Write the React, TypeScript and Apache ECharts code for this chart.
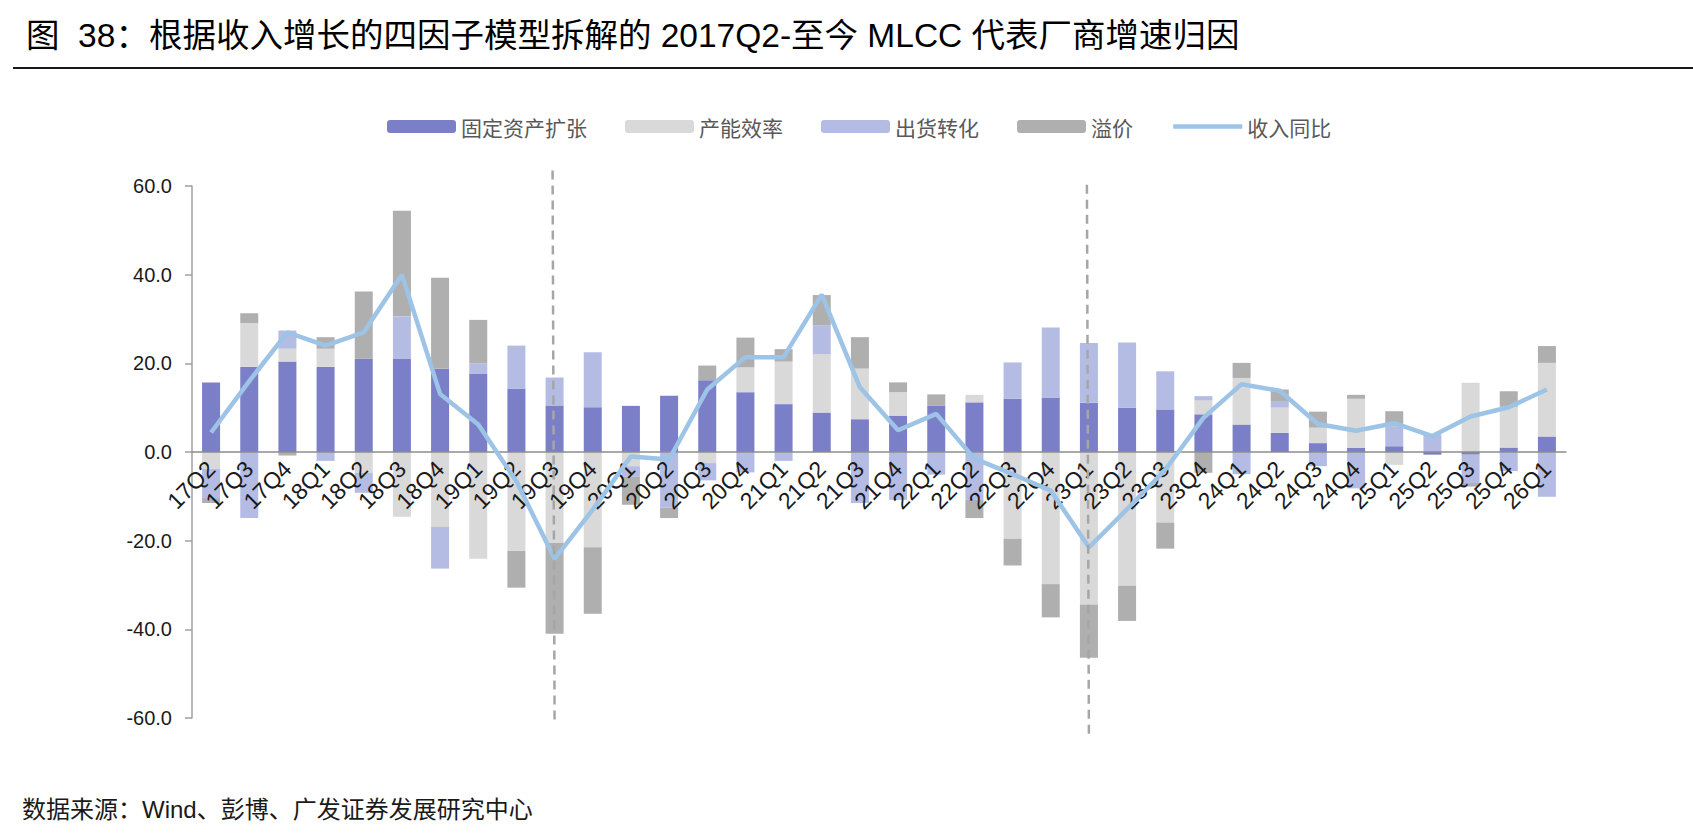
import React, { useEffect, useRef } from "react";
import * as echarts from "echarts";

const categories = [
  "17Q2", "17Q3", "17Q4", "18Q1", "18Q2", "18Q3", "18Q4", "19Q1", "19Q2", "19Q3", "19Q4",
  "20Q1", "20Q2", "20Q3", "20Q4", "21Q1", "21Q2", "21Q3", "21Q4", "22Q1", "22Q2", "22Q3",
  "22Q4", "23Q1", "23Q2", "23Q3", "23Q4", "24Q1", "24Q2", "24Q3", "24Q4", "25Q1", "25Q2",
  "25Q3", "25Q4", "26Q1",
];

const fixedAsset = [
  15.7, 19.2, 20.4, 19.2, 21.1, 21.1, 18.8, 17.7, 14.3, 10.5, 10.1,
  10.4, 12.7, 16.2, 13.5, 10.8, 8.9, 7.4, 8.2, 10.5, 11.2, 12.0,
  12.3, 11.1, 10.0, 9.6, 8.5, 6.2, 4.3, 2.0, 0.9, 1.3, -0.6,
  -0.6, 1.0, 3.5,
];

const capacityEfficiency = [
  -3.8, 9.9, 2.9, 4.1, -4.7, -14.6, -16.9, -24.1, -22.3, -20.5, -21.5,
  -3.2, 0, -2.5, 5.6, 9.6, 13.2, 11.4, 5.3, 0, 1.7, -19.6,
  -29.8, -34.4, -30.2, -15.9, 3.1, 10.5, 5.7, 3.5, 11.1, -2.9, 0,
  15.6, 9.2, 16.6,
];

const shipmentConversion = [
  -6.6, -14.9, 4.1, -2.0, -4.5, 9.5, -9.4, 2.3, 9.7, 6.3, 12.4,
  -2.3, -12.6, -3.9, -4.6, -2.0, 6.5, -11.5, -10.8, -5.1, -10.8, 8.2,
  15.8, 13.5, 14.7, 8.6, 1.0, -5.0, 1.5, -3.2, -8.2, 4.5, 4.0,
  -6.4, -4.3, -10.1,
];

const premium = [
  -1.1, 2.2, -0.8, 2.6, 15.1, 23.8, 20.5, 9.8, -8.3, -20.5, -15.0,
  -6.4, -2.3, 3.3, 6.7, 2.8, 6.8, 7.1, 2.2, 2.5, -4.1, -6.0,
  -7.5, -12.0, -7.9, -5.9, -4.7, 3.4, 2.6, 3.6, 0.9, 3.4, 0,
  -0.8, 3.5, 3.8,
];

const revenueYoY = [
  4.4, 16.0, 27.0, 24.0, 27.0, 40.0, 13.1, 6.2, -6.6, -24.1, -13.0,
  -1.0, -1.7, 14.1, 21.4, 21.4, 35.5, 14.6, 4.9, 8.6, -1.5, -5.0,
  -8.7, -21.5, -12.9, -4.0, 7.7, 15.3, 13.8, 6.3, 4.8, 6.5, 3.6,
  8.0, 10.1, 14.1,
];

const seriesNames = ["固定资产扩张", "产能效率", "出货转化", "溢价", "收入同比"];
const yMin = -60;
const yMax = 60;
const yInterval = 20;

const dividers = [
  { category: "19Q3", top: 63.5, bottom: -61 },
  { category: "23Q1", top: 60.3, bottom: -64.4 },
];

const titleText = "图  38：根据收入增长的四因子模型拆解的 2017Q2-至今 MLCC 代表厂商增速归因";
const sourceText = "数据来源：Wind、彭博、广发证券发展研究中心";

const FONT = "'Liberation Sans', Arial, 'Noto Sans CJK SC', sans-serif";
const CJK = "'Noto Sans CJK SC', 'Liberation Sans', sans-serif";

export default function App() {
  const ref = useRef<HTMLDivElement>(null);

  useEffect(() => {
    document.body.style.margin = "0";
    const chart = echarts.init(ref.current as HTMLDivElement, null, { renderer: "svg" });

    const barCommon = {
      type: "bar",
      stack: "total",
      barWidth: 18,
      emphasis: { disabled: true },
    };

    chart.setOption({
      animation: false,
      backgroundColor: "#ffffff",
      legend: {
        data: [
          seriesNames[0],
          seriesNames[1],
          seriesNames[2],
          seriesNames[3],
          { name: seriesNames[4], itemStyle: { opacity: 0 }, lineStyle: { width: 4.5 } },
        ],
        left: 387,
        top: 116,
        padding: 0,
        itemWidth: 69,
        itemHeight: 13,
        itemGap: 38,
        textStyle: { fontSize: 21, color: "#595959", fontFamily: CJK },
      },
      grid: { left: 192, right: 127, top: 186, bottom: 115, containLabel: false },
      xAxis: {
        type: "category",
        data: categories,
        z: 6,
        axisLine: { onZero: false, lineStyle: { color: "#8c8c8c", width: 1.5 } },
        axisTick: { show: false },
        axisLabel: {
          interval: 0,
          rotate: 45,
          margin: 13,
          fontSize: 23,
          color: "#1a1a1a",
          fontFamily: FONT,
        },
        splitLine: { show: false },
      },
      yAxis: {
        type: "value",
        min: yMin,
        max: yMax,
        interval: yInterval,
        axisLine: { show: true, lineStyle: { color: "#a0a0a0", width: 1.5 } },
        axisTick: { show: true, length: 7, lineStyle: { color: "#a0a0a0", width: 1.5 } },
        axisLabel: {
          margin: 20,
          fontSize: 20,
          color: "#1a1a1a",
          fontFamily: FONT,
          formatter: (v: number) => v.toFixed(1),
        },
        splitLine: { show: false },
      },
      series: [
        { ...barCommon, name: seriesNames[0], data: fixedAsset, itemStyle: { color: "#7b7fc7" } },
        { ...barCommon, name: seriesNames[1], data: capacityEfficiency, itemStyle: { color: "#d9d9d9" } },
        { ...barCommon, name: seriesNames[2], data: shipmentConversion, itemStyle: { color: "#b4bce4" } },
        { ...barCommon, name: seriesNames[3], data: premium, itemStyle: { color: "#afafaf" } },
        {
          type: "line",
          name: seriesNames[4],
          data: revenueYoY,
          symbol: "none",
          z: 8,
          lineStyle: { color: "#9dc3e6", width: 4.5 },
          itemStyle: { color: "#9dc3e6" },
          emphasis: { disabled: true },
        },
      ],
    });

    // Move the category axis (line + labels) up to the zero value.
    const zeroY = chart.convertToPixel({ yAxisIndex: 0 }, 0) as number;
    const bottomY = chart.convertToPixel({ yAxisIndex: 0 }, yMin) as number;
    chart.setOption({ xAxis: { offset: -(bottomY - zeroY) } });

    const dividerGraphics = dividers.map((d, i) => {
      const x = chart.convertToPixel({ xAxisIndex: 0 }, d.category) as number;
      const y1 = chart.convertToPixel({ yAxisIndex: 0 }, d.top) as number;
      const y2 = chart.convertToPixel({ yAxisIndex: 0 }, d.bottom) as number;
      return {
        type: "line",
        id: "divider" + i,
        z: 10,
        shape: { x1: x - 2, y1, x2: x, y2 },
        style: { stroke: "#a6a6a6", lineWidth: 2.5, lineDash: [9, 6] },
      };
    });

    chart.setOption({
      graphic: [
        {
          type: "text",
          id: "title",
          x: 26,
          y: 35,
          style: {
            text: titleText,
            fontSize: 33.5,
            fontFamily: FONT,
            fill: "#000000",
            verticalAlign: "middle",
          },
        },
        {
          type: "line",
          id: "underline",
          shape: { x1: 13, y1: 68, x2: 1693, y2: 68 },
          style: { stroke: "#1a1a1a", lineWidth: 2 },
        },
        {
          type: "text",
          id: "source",
          x: 22,
          y: 809,
          style: {
            text: sourceText,
            fontSize: 24,
            fontFamily: FONT,
            fill: "#1a1a1a",
            verticalAlign: "middle",
          },
        },
        ...dividerGraphics,
      ],
    });

    return () => chart.dispose();
  }, []);

  return <div ref={ref} style={{ width: 1693, height: 833 }} />;
}
